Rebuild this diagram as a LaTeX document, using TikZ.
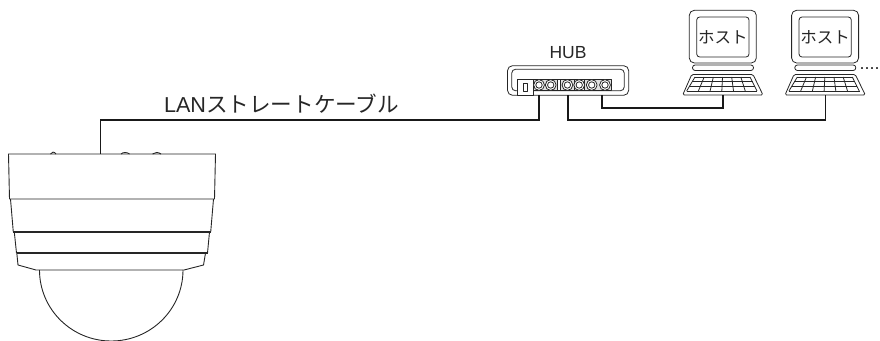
\documentclass[tikz,border=0pt]{standalone}
\usepackage{fontspec}
\setmainfont{Liberation Sans}
\newfontfamily\cjkjp{Noto Sans CJK JP}
\tikzset{
  thin line/.style={draw=black!85,line width=0.8pt,line join=round},
  body line/.style={draw=black!85,line width=0.9pt,line join=round},
  cable/.style={draw=black!90,line width=1.7pt,line join=miter},
  label text/.style={text=black!85,inner sep=0pt,outer sep=0pt},
  pics/hostpc/.style={code={
    \draw[thin line,rounded corners=5pt,fill=white] (0,0) rectangle (67,52.7);
    \draw[thin line,rounded corners=3pt] (7.4,6.7) rectangle (59.7,46.7);
    \node[label text,font=\cjkjp\fontsize{16.5}{16}\selectfont] (-label) at (33.5,27) {ホスト};
    \draw[thin line,rounded corners=2.6pt] (3.2,54.7) rectangle (64.2,60.2);
    \draw[thin line,rounded corners=1.5pt] (2.4,64.2) -- (63.7,64.2) -- (73.7,84.7) -- (-6.6,84.7) -- cycle;
    \foreach \i in {0,...,3}{
      \pgfmathsetmacro\yy{66.7+\i*4.7}
      \pgfmathsetmacro\xa{5.7-(\yy-66.7)*0.6}
      \pgfmathsetmacro\xb{60.7+(\yy-66.7)*0.53}
      \draw[thin line] (\xa,\yy) -- (\xb,\yy);
    }
    \foreach \i in {0,...,6}{
      \pgfmathsetmacro\xa{5.7+\i*55/6}
      \pgfmathsetmacro\xb{-2.7+\i*70.4/6}
      \draw[thin line] (\xa,66.7) -- (\xb,80.8);
    }
    \coordinate (-port) at (34,84.7);
  }}
}
\begin{document}
\begin{tikzpicture}[x=1pt,y=-1pt]
\useasboundingbox (0,0) rectangle (880,340);
\clip (0,0) rectangle (880,340);

% camera
\draw[body line] (39.5,270) arc[start angle=180,end angle=0,x radius=71.75,y radius=71];
\draw[body line] (8.5,154) -- (215.5,154) -- (214.5,199) -- (9.5,199) -- cycle;
\draw[body line] (10.5,199) -- (13.3,232) (213.5,199) -- (210.7,232);
\draw[body line,line width=1.6pt] (13,232) -- (211,232);
\draw[body line] (14.3,232) -- (16.5,253) (209.5,232) -- (207.5,253);
\draw[body line,line width=1.1pt] (16.5,253) -- (207.5,253);
\draw[body line] (16.8,253) -- (18,265) -- (36,270) -- (184,270) -- (203.5,265) -- (205.5,253);
\draw[body line] (50.5,154) .. controls (52,151.5) and (54,151.5) .. (56,154);
\draw[body line] (121,154) .. controls (123,152) and (127,152) .. (129.5,154);
\draw[body line] (152.5,154) .. controls (155,152) and (158,152) .. (161,154);
\coordinate (camtop) at (100.5,154);

% hub
\draw[thin line,rounded corners=5pt] (507.5,65.7) rectangle (628.7,95.3);
\draw[thin line,rounded corners=4pt] (511.7,69.2) rectangle (624.3,90.8);
\draw[thin line,fill=black!12] (533,79.3) rectangle (611.5,90.8);
\draw[thin line,fill=white] (517.5,79.3) rectangle (533,95.3);
\draw[thin line,line width=1pt] (523.5,83.8) rectangle (527.7,91);
\draw[thin line,fill=white] (557.6,79.3) rectangle (560,90.8);
\draw[thin line,fill=white] (574,79.6) rectangle (584.5,90.4);
\foreach \n/\x in {a/539,b/550.7,c/567.4,d/579.2,e/591.7,f/605}{
  \draw[thin line,fill=white] (\x,85) circle[radius=5.4];
  \draw[thin line,fill=white] (\x,85) circle[radius=3.2];
  \coordinate (port\n) at (\x,95.3);
}
\coordinate (hubleft) at (539.3,95.3);
\coordinate (hubmid) at (567.7,95.3);
\coordinate (hubright) at (602,95.3);
\node[label text,font=\fontsize{17.5}{18}\selectfont] (hublabel) at (568,52.5) {HUB};

% hosts
\pic (hostA) at (689.3,10.3) {hostpc};
\pic (hostB) at (791.6,10.3) {hostpc};
\node[label text,font=\fontsize{18}{18}\selectfont,anchor=base west] (more) at (859.5,69.2) {....};

% cables
\draw[cable] (camtop) -- (camtop |- 0,120) -- (hubleft |- 0,120) -- (hubleft);
\draw[cable] (hubmid) -- (hubmid |- 0,120) -- (hostB-port |- 0,120) -- (hostB-port);
\draw[cable] (hubright) -- (hubright |- 0,108) -- (hostA-port |- 0,108) -- (hostA-port);

% cable label
\node[label text,font=\fontsize{21.6}{22}\selectfont,anchor=base west] (cablelabel) at (164,112.5) {LAN{\cjkjp ストレートケーブル}};
\end{tikzpicture}
\end{document}
